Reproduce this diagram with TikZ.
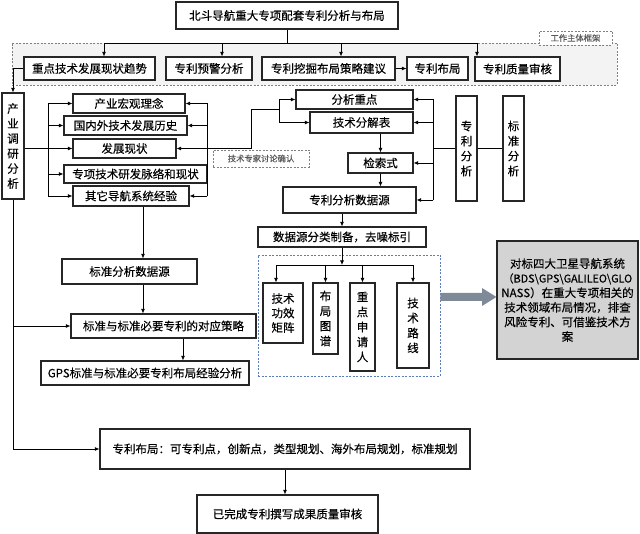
\documentclass[tikz,border=0pt]{standalone}
\usepackage{fontspec}
\setmainfont[FakeBold=0.3]{Noto Sans CJK SC}
\usetikzlibrary{arrows.meta}
\definecolor{boxline}{HTML}{262626}
\definecolor{framegray}{HTML}{808080}
\definecolor{framefill}{HTML}{F3F3F3}
\definecolor{blued}{HTML}{5B7DB8}
\definecolor{boxgray}{HTML}{D3D3D3}
\definecolor{bigarrowc}{HTML}{7F8A98}
\definecolor{labtext}{HTML}{595959}
\newcommand\bx[7][]{\node[box,#1,minimum width={(#5-#3)*1pt},minimum height={(#6-#4)*1pt}] (#2) at ({(#3+#5)/2},{(#4+#6)/2}) {#7};}
\begin{document}
\begin{tikzpicture}[x=1pt,y=-1pt,
  box/.style={draw=boxline,line width=1.1pt,fill=white,inner sep=0pt,align=center,font=\fontsize{11.5}{14}\selectfont},
  vtext/.style={font=\fontsize{11.5}{15}\selectfont},
  dlabel/.style={draw=framegray,line width=0.8pt,dash pattern=on 2pt off 1.5pt,fill=white,text=labtext,font=\fontsize{8.3}{10}\selectfont},
  conn/.style={draw=black,line width=0.8pt},
  arr/.style={draw=black,line width=0.8pt,-{Latex[length=4.5pt,width=4pt]}}]
\useasboundingbox (0,0) rectangle (640,534);

% title and working frame
\bx{title}{176}{2}{398}{29}{北斗导航重大专项配套专利分析与布局}
\bx[draw=framegray,line width=0.9pt,dash pattern=on 2pt off 1.5pt,fill=framefill]{frame}{12}{43}{617}{85}{}
\bx[dlabel]{lab}{539}{31}{612}{45}{工作主体框架}

% top row
\bx{t1}{24}{57}{155}{80}{重点技术发展现状趋势}
\bx{t2}{166}{57}{252}{80}{专利预警分析}
\bx{t3}{262}{57}{395}{80}{专利挖掘布局策略建议}
\bx{t4}{407}{57}{468}{80}{专利布局}
\bx{t5}{475}{57}{560}{81}{专利质量审核}

% left column
\bx[vtext]{cydy}{2}{93}{24}{199}{产\\业\\调\\研\\分\\析}
\bx{L1}{73}{94}{185}{113}{产业宏观理念}
\bx{L2}{64}{116}{187}{135}{国内外技术发展历史}
\bx{L3}{73}{139}{176}{158}{发展现状}
\bx{L4}{64}{165}{207}{183}{专项技术研发脉络和现状}
\bx{L5}{73}{186}{189}{206}{其它导航系统经验}
\bx[dlabel]{exp}{213}{150}{309}{167}{技术专家讨论确认}

% middle column
\bx{M1}{296}{90}{413}{109}{分析重点}
\bx{M2}{310}{112}{413}{133}{技术分解表}
\bx{M3}{348}{153}{413}{173}{检索式}
\bx{M4}{283}{187}{416}{213}{专利分析数据源}
\bx[vtext]{zlfx}{456}{96}{477}{201}{专\\利\\分\\析}
\bx[vtext]{bzfx}{503}{96}{524}{201}{标\\准\\分\\析}
\bx{D}{258}{227}{426}{247}{数据源分类制备，去噪标引}

% blue frame and its boxes
\bx[draw=blued,line width=0.9pt,dash pattern=on 2pt off 1.5pt,fill=none]{bf}{258}{255}{440}{376}{}
\bx[font=\fontsize{11.5}{14.5}\selectfont]{B1}{263}{283}{303}{343}{技术\\功效\\矩阵}
\bx[vtext]{B2}{313}{283}{338}{354}{布\\局\\图\\谱}
\bx[vtext]{B3}{350}{283}{375}{371}{重\\点\\申\\请\\人}
\bx[vtext]{B4}{397}{283}{429}{368}{技\\术\\路\\线}

% gray result box
\bx[fill=boxgray,font=\fontsize{11.5}{14.6}\selectfont]{G}{497}{241}{638}{359}{对标四大卫星导航系统\\{\fontsize{10.8}{14.6}\selectfont（BDS\textbackslash GPS\textbackslash GALILEO\textbackslash GLO}\\NASS）在重大专项相关的\\技术领域布局情况，排查\\风险专利、可借鉴技术方\\案}
\fill[bigarrowc] (bf.east |- 0,293) -- (482,293) -- (482,288) -- (G.west |- 0,297) -- (482,306) -- (482,301) -- (bf.east |- 0,301) -- cycle;

% lower left
\bx{S1}{62}{259}{197}{284}{标准分析数据源}
\bx{S2}{71}{314}{256}{338}{标准与标准必要专利的对应策略}
\bx{S3}{41}{361}{249}{385}{GPS标准与标准必要专利布局经验分析}
\bx{P}{100}{429}{470}{469}{专利布局：可专利点，创新点，类型规划、海外布局规划，标准规划}
\bx{F}{197}{495}{378}{533}{已完成专利撰写成果质量审核}

% title connectors
\coordinate (busL) at (104,43);
\coordinate (b2) at (222,43);
\coordinate (b3) at (341,43);
\coordinate (busR) at (477,43);
\draw[conn] (title.south) -- (title.south |- busL);
\draw[conn] (busL) -- (busR);
\draw[arr] (busL) -- (busL |- t1.north);
\draw[arr] (b2) -- (b2 |- t2.north);
\draw[arr] (b3) -- (b3 |- t3.north);
\draw[arr] (busR) -- (busR |- t5.north);
\draw[arr] (t3.east) -- (t4.west);
\draw[arr] (t1.west) -| (cydy.north);

% left list connectors
\coordinate (lb) at (48,0);
\coordinate (rb) at (207,0);
\draw[arr] (cydy.east |- L3.west) -- (L3.west);
\draw[conn] (lb |- L1.west) -- (lb |- L5.west);
\foreach \n in {L1,L2,L4,L5} \draw[arr] (lb |- \n.west) -- (\n.west);
\draw[conn] (rb |- L1.east) -- (rb |- L5.east);
\foreach \n in {L1,L2,L5} \draw[arr] (rb |- \n.east) -- (\n.east);

% expert path
\coordinate (kj) at (279,109);
\coordinate (kb) at (251,109);
\draw[arr] (kj) -- (kb) -- (kb |- L3.east) -- (L3.east);
\draw[arr] (kj) |- (M1.west);
\draw[arr] (kj) |- (M2.west);

% middle connectors
\coordinate (mb) at (433,0);
\draw[conn] (mb |- M1.east) -- (mb |- M4.east);
\foreach \n in {M1,M2,M3,M4} \draw[arr] (mb |- \n.east) -- (\n.east);
\draw[conn] (zlfx.west) -- (mb |- zlfx.west);
\draw[conn] (zlfx.east) -- (bzfx.west);
\draw[arr] (M2.south -| M3.north) -- (M3.north);
\draw[arr] (M3.south) -- (M3.south |- M4.north);
\draw[arr] (M4.south -| D.north) -- (D.north);

% blue frame connectors
\coordinate (bb1) at (276,265);
\draw[arr] (D.south) -- (D.south |- bb1);
\draw[conn] (bb1) -- (bb1 -| B4.north);
\draw[arr] (bb1) -- (bb1 |- B1.north);
\foreach \n in {B2,B3,B4} \draw[arr] (bb1 -| \n.north) -- (\n.north);

% lower left connectors
\coordinate (ax) at (143,0);
\coordinate (ax2) at (183,0);
\draw[arr] (L5.south -| ax) -- (S1.north -| ax);
\draw[arr] (S1.south -| ax) -- (S2.north -| ax);
\draw[arr] (S2.south -| ax2) -- (S3.north -| ax2);
\draw[arr] (cydy.south) |- (P.west);
\draw[arr] (cydy.south |- S2.west) -- (S2.west);
\draw[arr] (P.south) -- (P.south |- F.north);
\end{tikzpicture}
\end{document}
